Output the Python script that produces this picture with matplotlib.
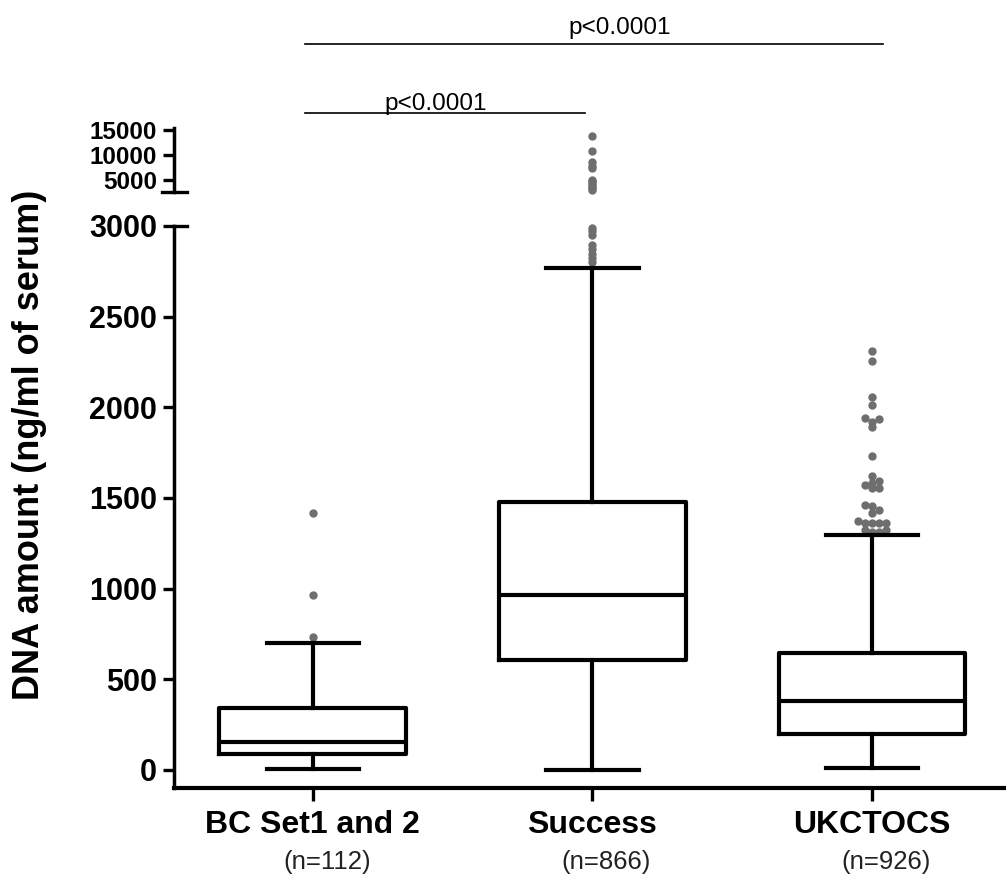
import matplotlib
matplotlib.use('Agg')
import matplotlib.pyplot as plt
import matplotlib.transforms as mtransforms
import numpy as np

# veriler
groups = ['BC Set1 and 2', 'Success', 'UKCTOCS']
n_labels = ['(n=112)', '(n=866)', '(n=926)']
whis_lo = [5, 0, 8]
q1 = [89, 605, 200]
medians = [152, 962, 380]
q3 = [344, 1480, 642]
whis_hi = [698, 2768, 1298]

out_bc = [732, 966, 1418]
out_success = [2800, 2822, 2848, 2872, 2895, 2950, 2972, 2990,
               3100, 3400, 3700, 4000, 4400, 4800, 5100, 7400, 7900, 8600, 10900, 13900]
out_ukctocs = [2312, 2256, 2057, 2012, 1935, 1918, 1940, 1890, 1730, 1619,
               1596, 1574, 1557, 1557, 1585, 1458, 1463, 1436, 1419,
               1364, 1364, 1364, 1364, 1375, 1325, 1314, 1314, 1325]
outliers = [out_bc, out_success, out_ukctocs]

lower_ticks = [0, 500, 1000, 1500, 2000, 2500, 3000]
upper_ticks = [5000, 10000, 15000]

plt.rcParams['font.family'] = ['Liberation Sans', 'DejaVu Sans']

fig = plt.figure(figsize=(10.06, 8.83), dpi=100)
W, H = 1006, 883
left = 173.5 / W
width = 1 - left
ax = fig.add_axes([left, 1 - 788 / H, width, (788 - 226) / H])
ax_top = fig.add_axes([left, 1 - 192 / H, width, (192 - 128) / H])

lw = 3.0
stats = []
for i in range(3):
    stats.append(dict(med=medians[i], q1=q1[i], q3=q3[i], whislo=whis_lo[i],
                      whishi=whis_hi[i], fliers=[]))
ax.bxp(stats, positions=[1, 2, 3], widths=0.668, showfliers=False,
       boxprops=dict(color='black', linewidth=lw),
       medianprops=dict(color='black', linewidth=lw),
       whiskerprops=dict(color='black', linewidth=lw),
       capprops=dict(color='black', linewidth=lw), capwidths=0.33)

# basit bir swarm ile noktalari yan yana yerlestir (piksel olceginde)
px_x = 280.0
px_y_low = 544.0 / 3000
px_y_top = 50.0 / 10000


def swarm(vals, scale_y, step=7.0, mind=5.0):
    placed = []
    res = []
    for v in sorted(vals):
        y = v * scale_y
        for k in [0, 1, -1, 2, -2, 3, -3, 4, -4]:
            x = k * step
            if all((x - a) ** 2 + (y - b) ** 2 >= mind ** 2 for a, b in placed):
                break
        placed.append((x, y))
        res.append((x / px_x, v))
    return res


# Success noktalari tek sutunda ust uste duruyor
min_dist = [5.0, 1.5, 5.0]
dot = dict(marker='o', linestyle='none', markersize=5, color='#6e6e6e', zorder=1)
for i, vals in enumerate(outliers):
    low = [v for v in vals if v <= 3000]
    high = [v for v in vals if v > 3000]
    if low:
        pts = swarm(low, px_y_low, mind=min_dist[i])
        ax.plot([i + 1 + p[0] for p in pts], [p[1] for p in pts], clip_on=False, **dot)
    if high:
        pts = swarm(high, px_y_top, mind=min_dist[i])
        ax_top.plot([i + 1 + p[0] for p in pts], [p[1] for p in pts], clip_on=False, **dot)

xlim = (0.502, 3.479)
ax.set_xlim(xlim)
ax_top.set_xlim(xlim)
ax.set_ylim(-100, 3000)
ax_top.set_ylim(2640, 15400)

for a in (ax, ax_top):
    for s in ['top', 'right']:
        a.spines[s].set_visible(False)
    a.spines['left'].set_linewidth(2.5)
    a.tick_params(axis='y', length=8, width=2.4, pad=4)
ax.spines['bottom'].set_linewidth(3)
ax_top.spines['bottom'].set_visible(False)
ax_top.set_xticks([])

ax.set_yticks(lower_ticks)
ax.set_yticklabels([str(t) for t in lower_ticks], fontweight='bold', fontsize=22)
ax_top.set_yticks(upper_ticks)
ax_top.set_yticklabels([str(t) for t in upper_ticks], fontweight='bold', fontsize=17.5)

ax.set_xticks([1, 2, 3])
ax.set_xticklabels(groups, fontweight='bold', fontsize=23)
ax.tick_params(axis='x', length=9, width=2.4, pad=7)

# kirik eksen cizgileri
sl = (173.5 - 162) / (W - 173.5)
sr = (187 - 173.5) / (W - 173.5)
ax.plot([0, sr], [1, 1], transform=ax.transAxes, clip_on=False, color='black', lw=2.4)
ax_top.plot([-sl, sr], [0, 0], transform=ax_top.transAxes, clip_on=False, color='black', lw=2.4)

# n etiketleri
tr = mtransforms.blended_transform_factory(ax.transData, fig.transFigure)
for i, lab in enumerate(n_labels):
    ax.text(i + 1 + 0.05, 1 - 862 / H, lab, transform=tr, ha='center', va='center',
            fontsize=18.5, color='#222222')

# anlamlilik cizgileri
ax.plot([0.971, 3.04], [1 - 44 / H] * 2, transform=tr, clip_on=False, color='black', lw=1.2)
ax.text(2.096, 1 - 34 / H, 'p<0.0001', transform=tr, ha='center', va='baseline', fontsize=17.5)
ax.plot([0.971, 1.975], [1 - 113 / H] * 2, transform=tr, clip_on=False, color='black', lw=1.2)
ax.text(1.44, 1 - 110 / H, 'p<0.0001', transform=tr, ha='center', va='baseline', fontsize=17.5)

fig.text(30 / W, 1 - 445 / H, 'DNA amount (ng/ml of serum)', rotation=90,
         ha='center', va='center', fontsize=26, fontweight='bold')

fig.savefig('out.png', dpi=100)
